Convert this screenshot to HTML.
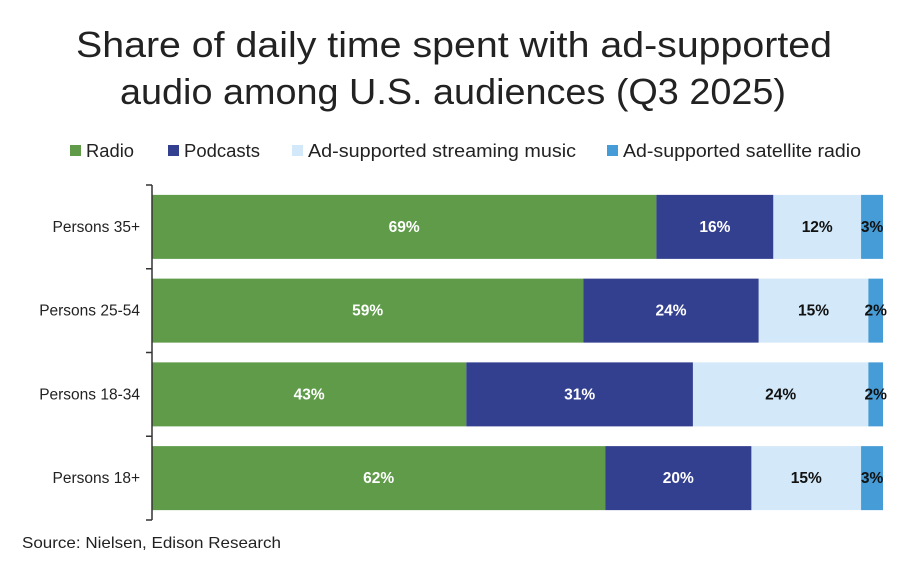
<!DOCTYPE html>
<html><head><meta charset="utf-8"><style>
body{margin:0;background:#fff;}
svg{display:block;font-family:"Liberation Sans",sans-serif;}
</style></head><body>
<svg id="chart" width="906" height="570">
<text x="76" y="57" textLength="756" lengthAdjust="spacingAndGlyphs" font-size="36" fill="#222">Share of daily time spent with ad-supported</text>
<text x="120" y="104" textLength="666" lengthAdjust="spacingAndGlyphs" font-size="36" fill="#222">audio among U.S. audiences (Q3 2025)</text>
<g id="legend"></g>
<g id="bars"></g>
<line x1="152" y1="185" x2="152" y2="520" stroke="#333" stroke-width="1.5"/>
<text x="22" y="548" textLength="259" lengthAdjust="spacingAndGlyphs" font-size="16" fill="#222">Source: Nielsen, Edison Research</text>
</svg>
<script>
const categories = ["Persons 35+","Persons 25-54","Persons 18-34","Persons 18+"];
const seriesNames = ["Radio","Podcasts","Ad-supported streaming music","Ad-supported satellite radio"];
const radio = [69,59,43,62];
const podcasts = [16,24,31,20];
const streaming = [12,15,24,15];
const satellite = [3,2,2,3];
const series=[radio,podcasts,streaming,satellite];
const colors=["#5f9b49","#333f8f","#d3e8f8","#469cd6"];
const textColors=["#fff","#fff","#111","#111"];
const NS="http://www.w3.org/2000/svg";
const x0=152, pxPer=7.31, top0=185, band=83.75, barH=64;
const xs=v=>v*pxPer;
function mk(t,a){const e=document.createElementNS(NS,t);for(const k in a)e.setAttribute(k,a[k]);return e;}
const bars=document.getElementById('bars');
const svg=document.getElementById('chart');
categories.forEach((c,i)=>{
  const yc=top0+band*i+band/2;
  const lab=mk('text',{x:140,y:yc+5,'text-anchor':'end','font-size':15.5,fill:'#222'});
  
  
  lab.textContent=c;bars.appendChild(lab);
  let acc=0;
  series.forEach((s,j)=>{
    const v=s[i];
    const r=mk('rect',{x:x0+xs(acc),y:yc-barH/2,width:xs(v),height:barH,fill:colors[j]});
    
    
    bars.appendChild(r);
    const t=mk('text',{x:x0+xs(acc+v/2),y:yc+5,'text-anchor':'middle','font-size':15.5,'font-weight':'bold',fill:textColors[j]});
    
    
    t.textContent=v+'%';bars.appendChild(t);
    acc+=v;
  });
});
for(let i=0;i<=categories.length;i++){
  const y=top0+band*i;
  const tk=mk('line',{x1:146,x2:152,y1:y,y2:y,stroke:'#333','stroke-width':1.5});
  
  
  svg.appendChild(tk);
}
const legend=document.getElementById('legend');
const lx=[70,168,292,607];
const lw=[48,76,268,238];
seriesNames.forEach((n,j)=>{
  const r=mk('rect',{x:lx[j],y:145,width:11,height:11,fill:colors[j]});
  
  
  legend.appendChild(r);
  const t=mk('text',{x:lx[j]+16,y:157,'font-size':18,fill:'#222',textLength:lw[j],lengthAdjust:'spacingAndGlyphs'});
  
  
  t.textContent=n;legend.appendChild(t);
});
</script>
</body></html>
